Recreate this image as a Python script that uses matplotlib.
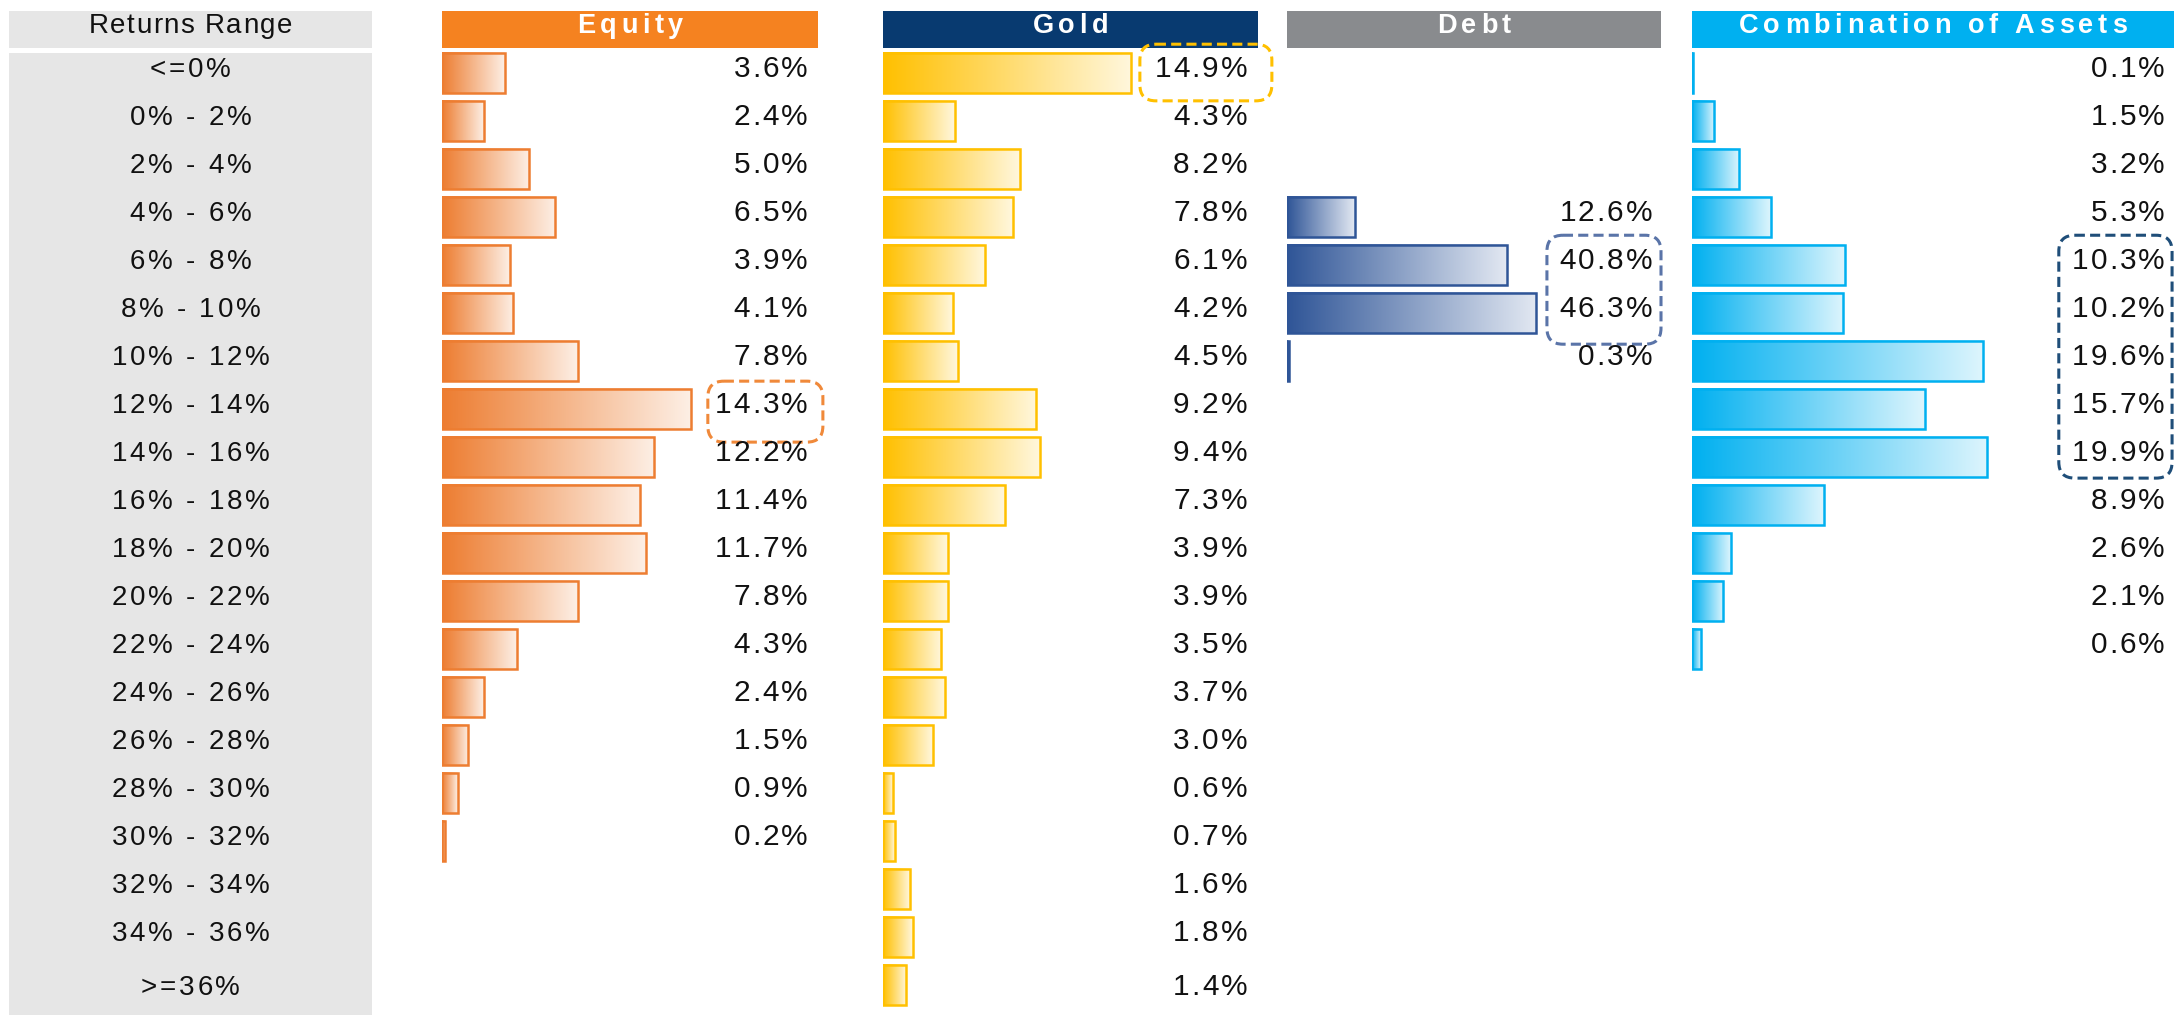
import numpy as np
import matplotlib
matplotlib.use("Agg")
import matplotlib.pyplot as plt
from matplotlib import font_manager, ft2font
from matplotlib.colors import LinearSegmentedColormap
from matplotlib.patches import FancyBboxPatch

plt.rcParams["font.family"] = ["Liberation Sans", "DejaVu Sans"]

# ---- data (share of observations per return bucket, %) ---------------------
ranges = ["<=0%", "0% - 2%", "2% - 4%", "4% - 6%", "6% - 8%", "8% - 10%",
          "10% - 12%", "12% - 14%", "14% - 16%", "16% - 18%", "18% - 20%",
          "20% - 22%", "22% - 24%", "24% - 26%", "26% - 28%", "28% - 30%",
          "30% - 32%", "32% - 34%", "34% - 36%", ">=36%"]
equity = [3.6, 2.4, 5.0, 6.5, 3.9, 4.1, 7.8, 14.3, 12.2, 11.4, 11.7, 7.8,
          4.3, 2.4, 1.5, 0.9, 0.2]
gold = [14.9, 4.3, 8.2, 7.8, 6.1, 4.2, 4.5, 9.2, 9.4, 7.3, 3.9, 3.9, 3.5,
        3.7, 3.0, 0.6, 0.7, 1.6, 1.8, 1.4]
debt = [None, None, None, 12.6, 40.8, 46.3, 0.3]
combo = [0.1, 1.5, 3.2, 5.3, 10.3, 10.2, 19.6, 15.7, 19.9, 8.9, 2.6, 2.1, 0.6]
# highlighted buckets (first row, last row) per panel
highlight = {"Equity": (7, 7), "Gold": (0, 0), "Debt": (4, 5),
             "Combination of Assets": (4, 8)}

# ---- layout (pixels of the 2174x1015 canvas) -------------------------------
W, H = 2174, 1015
Y0, DY = 73, 48                      # centre of first row, row pitch
BAR_H = 0.84
ylim = ((H - Y0) / DY, -Y0 / DY)

#        title, values, header, dark, light, left, width, xmax, label x
panels = [
    ("Equity", equity, "#F58220", "#ED7D31", "#FDEFE5", 442, 376, 21.6, 0.973),
    ("Gold", gold, "#083A70", "#FFC000", "#FFF7DD", 883, 375, 22.5, 0.971),
    ("Debt", debt, "#898B8E", "#2F5597", "#E2E8F2", 1287, 374, 69.5, 0.976),
    ("Combination of Assets", combo, "#00B0F0", "#00B0F0", "#DDF5FD",
     1692, 482, 32.5, 0.981),
]
# dashed box: colour, x range (axes fraction), top / bottom pad (rows)
boxes = {"Equity": ("#F0893A", 0.707, 1.013, 0.58, 0.69),
         "Gold": ("#FFC000", 0.685, 1.037, 0.60, 0.58),
         "Debt": ("#5A74A8", 0.695, 1.000, 0.62, 0.65),
         "Combination of Assets": ("#1F4E79", 0.761, 0.996, 0.62, 0.44)}

fig = plt.figure(figsize=(W / 100, H / 100), dpi=100)
# pixel-space overlay for text (letter-spaced) and the dashed boxes
ov = fig.add_axes([0, 0, 1, 1], zorder=10)
ov.set_xlim(0, W); ov.set_ylim(H, 0); ov.axis("off"); ov.patch.set_alpha(0)

_fonts = {}


def advances(s, size, weight):
    key = (size, weight)
    if key not in _fonts:
        path = font_manager.findfont(
            font_manager.FontProperties(family="Liberation Sans", weight=weight))
        f = ft2font.FT2Font(path)
        f.set_size(size, 100)
        _fonts[key] = f
    f = _fonts[key]
    return [f.load_char(ord(c)).linearHoriAdvance / 65536 for c in s]


def tracked_text(x, y, s, size, track, ha="center", weight="normal",
                 color="#111111"):
    """source text is letter-spaced; place it glyph by glyph"""
    adv = advances(s, size, weight)
    total = sum(adv) + track * (len(s) - 1)
    cx = {"left": x, "center": x - total / 2, "right": x - total}[ha]
    for c, a in zip(s, adv):
        if c != " ":
            ov.text(cx, y, c, ha="left", va="baseline", fontsize=size,
                    fontweight=weight, color=color)
        cx += a + track


def baseline_px(i):
    # baseline slightly below bar centre; last row sits a bit lower in source
    return Y0 + (i + 0.085 + (0.12 if i == len(ranges) - 1 else 0)) * DY


HEAD_BASE = Y0 - 0.833 * DY

# ---- returns range column --------------------------------------------------
ax = fig.add_axes([9 / W, 0, (372 - 9) / W, 1])
ax.set_xlim(0, 1); ax.set_ylim(*ylim); ax.axis("off")
ax.axhspan(-1.292, -0.521, color="#E6E6E6", lw=0)
ax.axhspan(-0.417, ylim[0], color="#E6E6E6", lw=0)
col_mid = (9 + 372) / 2
tracked_text(col_mid, HEAD_BASE, "Returns Range", 20, 1.4)
for i, lab in enumerate(ranges):
    tracked_text(col_mid, baseline_px(i), lab, 20, 2.8)

# ---- asset panels ----------------------------------------------------------
grad = np.linspace(0, 1, 256).reshape(1, -1)
for title, vals, hcol, dark, light, left, width, xmax, lx in panels:
    ax = fig.add_axes([left / W, 0, width / W, 1])
    cmap = LinearSegmentedColormap.from_list(title, [dark, light])
    ax.axhspan(-1.292, -0.521, color=hcol, lw=0)
    tracked_text(left + width / 2, HEAD_BASE, title, 19.5, 4.6,
                 weight="bold", color="white")
    for i, v in enumerate(vals):
        if v is None:
            continue
        ax.imshow(grad, cmap=cmap, aspect="auto", interpolation="bilinear",
                  extent=(0, v, i + BAR_H / 2, i - BAR_H / 2), zorder=1)
        ax.barh(i, v, height=BAR_H, facecolor="none", edgecolor=dark,
                linewidth=1.8, zorder=2)
        tracked_text(left + lx * width, baseline_px(i), f"{v:.1f}%", 21.5,
                     2.0, ha="right")
    ax.set_xlim(0, xmax); ax.set_ylim(*ylim); ax.axis("off")

    # dashed highlight box, drawn in pixel space so the corners stay round
    bcol, fx0, fx1, ptop, pbot = boxes[title]
    r0, r1 = highlight[title]
    x0 = left + fx0 * width
    x1 = left + fx1 * width
    y0 = Y0 + (r0 - ptop) * DY
    y1 = Y0 + (r1 + pbot) * DY
    ov.add_patch(FancyBboxPatch((x0, y0), x1 - x0, y1 - y0,
                                boxstyle="round,pad=0,rounding_size=16",
                                facecolor="none", edgecolor=bcol, lw=2.2,
                                linestyle=(0, (3.3, 1.7))))

fig.savefig("out.png", dpi=100)
